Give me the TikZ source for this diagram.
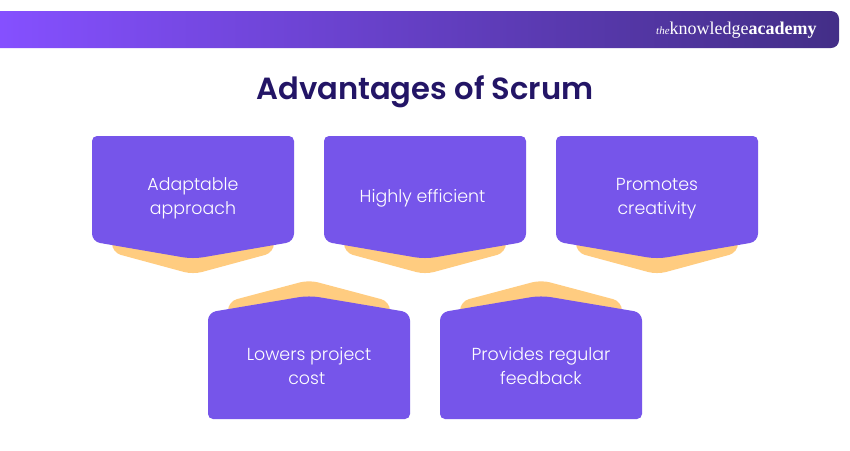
\documentclass[tikz,border=0pt]{standalone}
\usepackage{fontspec}
\setmainfont{Poppins Light}
\newfontfamily\titlefont{Poppins SemiBold}
\newfontfamily\logofont{Liberation Serif}
\definecolor{boxpurple}{HTML}{7655EA}
\definecolor{backorange}{HTML}{FFCC80}
\definecolor{titlecol}{HTML}{231566}
\definecolor{barleft}{HTML}{8550FF}
\definecolor{barmid}{HTML}{6A42CC}
\definecolor{barright}{HTML}{432E87}
\tikzset{
  boxlabel/.style={text=white,align=center,font=\fontsize{17.4}{24}\selectfont,inner sep=0pt},
  boxfill/.style={fill=boxpurple,draw=none},
  backfill/.style={fill=backorange,draw=none},
}
\newcommand{\downcard}[3]{%
  \begin{scope}[shift={(#1,0)}]
    \fill[backfill] (20,240) -- (20,240) [rounded corners=9pt] -- (20,252.5) [rounded corners=9pt] -- (101,274.4) [rounded corners=9pt] -- (182,252.5) [sharp corners] -- (182,240) -- cycle;
    \fill[boxfill] (50,136) [rounded corners=5pt] -- (0,136) [rounded corners=8pt] -- (0,241.6) [rounded corners=10pt] -- (101,259) [rounded corners=8pt] -- (202,241.6) [rounded corners=5pt] -- (202,136) [sharp corners] -- cycle;
    \node[boxlabel] (#2) at (101,198.5) {#3};
  \end{scope}}
\newcommand{\upcard}[3]{%
  \begin{scope}[shift={(#1,0)}]
    \fill[backfill] (20,315) -- (20,315) [rounded corners=9pt] -- (20,301.5) [rounded corners=9pt] -- (101,280) [rounded corners=9pt] -- (182,301.5) [sharp corners] -- (182,315) -- cycle;
    \fill[boxfill] (50,419) [rounded corners=5pt] -- (0,419) [rounded corners=8pt] -- (0,312.5) [rounded corners=10pt] -- (101,295.5) [rounded corners=8pt] -- (202,312.5) [rounded corners=5pt] -- (202,419) [sharp corners] -- cycle;
    \node[boxlabel] (#2) at (101,366) {#3};
  \end{scope}}
\begin{document}
\begin{tikzpicture}[x=1pt,y=-1pt]
\useasboundingbox (0,0) rectangle (850,450);
\fill[white] (0,0) rectangle (850,450);
% top bar
\begin{scope}
  \clip[rounded corners=8pt] (-20,11) rectangle (839,48);
  \shade[left color=barleft,middle color=barmid,right color=barright] (0,11) rectangle (839,48);
\end{scope}
\node[anchor=west,inner sep=0pt,text=white] (logo) at (656,30.5) {\logofont{\fontsize{11}{11}\selectfont\itshape the}\fontsize{18}{18}\selectfont knowledge\textbf{academy}};
\node[text=titlecol,inner sep=0pt] (title) at (425,92) {\titlefont\fontsize{30.6}{38}\selectfont Advantages of Scrum};
\downcard{92}{c1}{Adaptable\\approach}
\downcard{324}{c2}{Highly efficient\hspace{5pt}}
\downcard{556}{c3}{Promotes\\creativity}
\upcard{208}{c4}{Lowers project\\cost\hspace*{4.5pt}\mbox{}}
\upcard{440}{c5}{Provides regular\\feedback}
\end{tikzpicture}
\end{document}
